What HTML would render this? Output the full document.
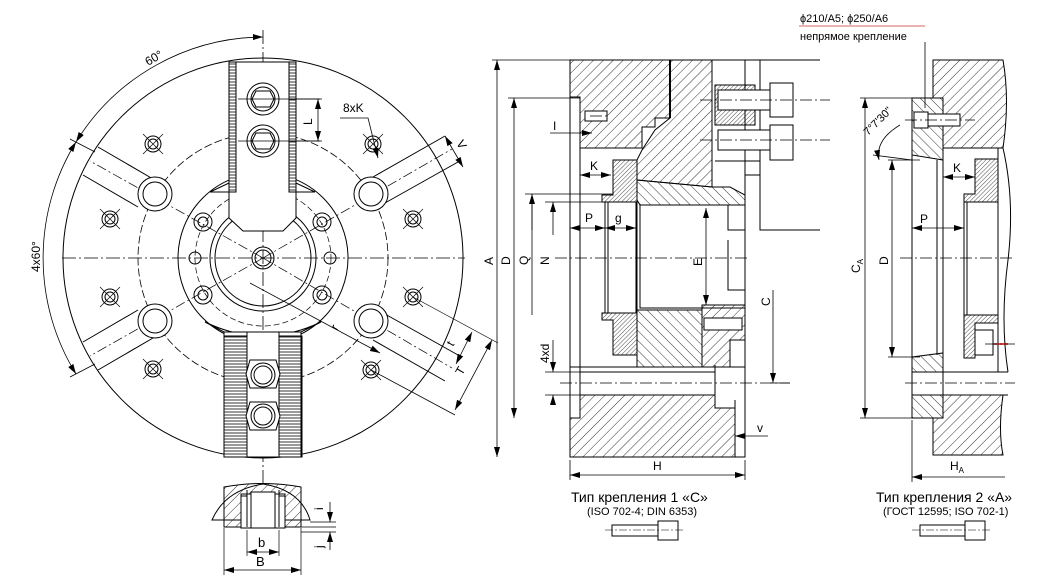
<!DOCTYPE html>
<html><head><meta charset="utf-8"><style>
html,body{margin:0;padding:0;background:#fff}
svg{display:block}
text{font-family:"Liberation Sans",Arial,sans-serif;fill:#000}
</style></head><body>
<svg width="1043" height="582" viewBox="0 0 1043 582" xmlns="http://www.w3.org/2000/svg">
<defs>
<pattern id="h" width="7" height="7" patternUnits="userSpaceOnUse" patternTransform="rotate(45)"><line x1="0" y1="0" x2="0" y2="7" stroke="#000" stroke-width="0.8"/></pattern>
<pattern id="h2" width="7" height="7" patternUnits="userSpaceOnUse" patternTransform="rotate(-45)"><line x1="0" y1="0" x2="0" y2="7" stroke="#000" stroke-width="0.8"/></pattern>
<pattern id="hd" width="3" height="3" patternUnits="userSpaceOnUse" patternTransform="rotate(45)"><line x1="0" y1="0" x2="0" y2="3" stroke="#000" stroke-width="0.7"/></pattern>
<pattern id="ser" width="3" height="3" patternUnits="userSpaceOnUse"><line x1="0" y1="1" x2="3" y2="1" stroke="#000" stroke-width="0.8"/></pattern>
<marker id="a" viewBox="0 0 10 6" refX="10" refY="3" markerWidth="10" markerHeight="6" orient="auto-start-reverse" markerUnits="userSpaceOnUse"><path d="M0,0L10,3L0,6z" fill="#000"/></marker>
</defs>
<g fill="none" stroke="#000" stroke-width="1">
<!-- ===== FRONT VIEW ===== -->
<line x1="263" y1="30" x2="263" y2="500" stroke-dasharray="14,3,2,3" stroke-width="0.8"/>
<line x1="62" y1="258" x2="465" y2="258" stroke-dasharray="14,3,2,3" stroke-width="0.8"/>
<circle cx="263" cy="258" r="200"/>
<circle cx="263" cy="258" r="125" stroke-dasharray="8,3" stroke-width="0.8"/>
<circle cx="263" cy="258" r="85"/>
<circle cx="263" cy="258" r="68" stroke-dasharray="6,3" stroke-width="0.7"/>
<circle cx="263" cy="258" r="53"/>
<circle cx="263" cy="258" r="48"/>
<circle cx="263" cy="258" r="11"/>
<circle cx="263" cy="258" r="8"/>
<g stroke-width="1">
<path d="M373,177L445,136M385,203L458,162"/>
<path d="M153,179L98,147M138,207L83,175"/>
<path d="M373,340L445,381M385,314L458,355"/>
<path d="M153,338L98,370M138,310L83,342"/>
</g>
<g stroke-dasharray="10,3,2,3" stroke-width="0.7"><line x1="263" y1="258" x2="452" y2="149"/><line x1="263" y1="258" x2="90" y2="161"/><line x1="263" y1="258" x2="452" y2="368"/><line x1="263" y1="258" x2="90" y2="356"/></g>
<g fill="#fff"><circle cx="155" cy="194" r="17"/><circle cx="371" cy="194" r="17"/><circle cx="155" cy="321" r="17"/><circle cx="371" cy="321" r="17"/></g>
<circle cx="155" cy="194" r="12"/><circle cx="371" cy="194" r="12"/><circle cx="155" cy="321" r="12"/><circle cx="371" cy="321" r="12"/>
<g>
<circle cx="153" cy="144" r="8"/><circle cx="153" cy="144" r="5"/>
<circle cx="110" cy="219" r="8"/><circle cx="110" cy="219" r="5"/>
<circle cx="110" cy="297" r="8"/><circle cx="110" cy="297" r="5"/>
<circle cx="153" cy="369" r="8"/><circle cx="153" cy="369" r="5"/>
<circle cx="373" cy="144" r="8"/><circle cx="373" cy="144" r="5"/>
<circle cx="413" cy="219" r="8"/><circle cx="413" cy="219" r="5"/>
<circle cx="413" cy="297" r="8"/><circle cx="413" cy="297" r="5"/>
<circle cx="371" cy="370" r="8"/><circle cx="371" cy="370" r="5"/>
<path stroke-width="0.7" d="M143,134l20,20M163,134l-20,20M100,209l20,20M120,209l-20,20M100,287l20,20M120,287l-20,20M143,359l20,20M163,359l-20,20M363,134l20,20M383,134l-20,20M403,209l20,20M423,209l-20,20M403,287l20,20M423,287l-20,20M361,360l20,20M381,360l-20,20"/>
</g>
<circle cx="203" cy="222" r="9"/><circle cx="203" cy="222" r="5"/>
<circle cx="322" cy="222" r="9"/><circle cx="322" cy="222" r="5"/>
<circle cx="203" cy="295" r="9"/><circle cx="203" cy="295" r="5"/>
<circle cx="322" cy="295" r="9"/><circle cx="322" cy="295" r="5"/>
<circle cx="195" cy="258" r="6"/><circle cx="330" cy="258" r="6"/>
<path d="M210,192L229,183L296,183L315,192z" fill="#fff"/>
<path d="M229,62L296,62L296,218L283,231L243,231L229,218z" fill="#fff"/>
<rect x="229" y="62" width="7" height="130" fill="url(#ser)"/>
<rect x="289" y="62" width="7" height="130" fill="url(#ser)"/>
<line x1="236" y1="62" x2="236" y2="192"/><line x1="289" y1="62" x2="289" y2="192"/>
<circle cx="263" cy="99" r="16"/><circle cx="263" cy="99" r="12"/><path d="M256,91h14l4,8l-4,8h-14l-4,-8z"/>
<circle cx="263" cy="141" r="16"/><circle cx="263" cy="141" r="12"/><path d="M256,133h14l4,8l-4,8h-14l-4,-8z"/>
<line x1="238" y1="99" x2="320" y2="99" stroke-width="0.7"/><line x1="238" y1="141" x2="320" y2="141" stroke-width="0.7"/>
<path d="M205,322Q263,350 321,322L301,332L224,332z" fill="#fff"/>
<rect x="224" y="332" width="77" height="125" fill="#fff"/>
<rect x="224" y="336" width="23" height="121" fill="url(#ser)"/>
<rect x="279" y="336" width="23" height="121" fill="url(#ser)"/>
<line x1="247" y1="332" x2="247" y2="457"/><line x1="279" y1="332" x2="279" y2="457"/>
<path d="M250,360h26l4,14l-4,14h-26l-4,-14z" fill="#fff"/><circle cx="263" cy="375" r="12"/><circle cx="263" cy="375" r="9"/>
<path d="M250,402h26l4,14l-4,14h-26l-4,-14z" fill="#fff"/><circle cx="263" cy="416" r="12"/><circle cx="263" cy="416" r="9"/>
<path d="M263,37A221,221 0 0 0 76,142" marker-end="url(#a)" marker-start="url(#a)" stroke-width="0.8"/>
<path d="M76,142A221,221 0 0 0 76,374" marker-end="url(#a)" marker-start="url(#a)" stroke-width="0.8"/>
<line x1="70" y1="139" x2="95" y2="152" stroke-width="0.8"/><line x1="70" y1="377" x2="95" y2="364" stroke-width="0.8"/>
<path d="M290,99H322M290,141H322" stroke-width="0.7"/>
<line x1="318" y1="99" x2="318" y2="141" marker-start="url(#a)" marker-end="url(#a)" stroke-width="0.8"/>
<path d="M340,118H368L378,158" stroke-width="0.8" marker-end="url(#a)"/>
<line x1="445" y1="136" x2="463" y2="167" marker-start="url(#a)" marker-end="url(#a)" stroke-width="0.8"/>
<line x1="413" y1="297" x2="498" y2="343" stroke-width="0.7"/><line x1="371" y1="370" x2="455" y2="415" stroke-width="0.8"/>
<line x1="492" y1="340" x2="455" y2="410" marker-start="url(#a)" marker-end="url(#a)" stroke-width="0.8"/>
<line x1="472" y1="332" x2="456" y2="364" marker-start="url(#a)" marker-end="url(#a)" stroke-width="0.8"/>
<line x1="250" y1="283" x2="380" y2="353" marker-end="url(#a)" stroke-width="0.8"/>
<path d="M212,520Q225,490 263,484Q301,490 310,520z" fill="#fff"/>
<path d="M224,527L224,487Q263,480 301,487L301,527z" fill="url(#h)"/>
<rect x="241" y="494" width="44" height="34" fill="#fff"/>
<path d="M247,490v37M279,490v37"/>
<path d="M241,496H247M279,496H285M241,496V528H285V496"/>
<rect x="251" y="492" width="24" height="36" fill="#fff"/>
<path d="M224,528V575M301,528V575M247,530V556M279,530V556" stroke-width="0.7"/>
<line x1="247" y1="552" x2="279" y2="552" marker-start="url(#a)" marker-end="url(#a)" stroke-width="0.8"/>
<line x1="224" y1="570" x2="301" y2="570" marker-start="url(#a)" marker-end="url(#a)" stroke-width="0.8"/>
<path d="M310,522H336M301,527H336M301,532H336" stroke-width="0.7"/>
<line x1="330" y1="502" x2="330" y2="522" marker-end="url(#a)" stroke-width="0.8"/>
<line x1="330" y1="550" x2="330" y2="532" marker-end="url(#a)" stroke-width="0.8"/>
</g>
<g font-size="12">
<text x="148" y="66" transform="rotate(-30 148 66)">60°</text>
<text x="40" y="272" transform="rotate(-90 40 272)">4x60°</text>
<text x="312" y="125" transform="rotate(-90 312 125)">L</text>
<text x="343" y="112">8xK</text>
<text x="456" y="143" transform="rotate(60 456 143)">V</text>
<text x="453" y="347" transform="rotate(-60 453 347)">t</text>
<text x="462" y="376" transform="rotate(-60 462 376)">T</text>
<text x="337" y="331" transform="rotate(-60 337 331)">r</text>
<text x="258" y="547" font-size="13">b</text>
<text x="256" y="566" font-size="13">B</text>
<text x="323" y="510" transform="rotate(-90 323 510)">i</text>
<text x="323" y="548" transform="rotate(-90 323 548)">j</text>
</g>

<!-- ===== SECTION VIEW 1 ===== -->
<g stroke="#000" stroke-width="1" fill="none">
<path d="M570,60L670,60L670,118L655,118L655,127L642,127L642,148L580,148L580,97L570,97z" fill="url(#h)"/>
<path d="M670,60L712,60L712,187L637,180L637,160L642,150L655,130L670,118z" fill="url(#h)"/>
<path d="M670,60V118" stroke-width="2"/>
<path d="M637,180L712,187L730,187L745,195L745,205L640,205L637,200z" fill="url(#h2)"/>
<path d="M613,160L637,160L637,355L613,355L613,320L602,320L602,313L613,313L613,202L602,202L602,195L613,195z" fill="url(#hd)"/>
<rect x="605" y="202" width="31" height="111" fill="#fff"/>
<line x1="608" y1="202" x2="608" y2="313"/>
<path d="M637,310L702,310L702,367L637,367z" fill="url(#h2)"/>
<path d="M702,305L745,305L745,340L730,340L730,367L702,367z" fill="url(#h)"/>
<rect x="704" y="318" width="38" height="12" fill="#fff"/>
<path d="M580,395L715,395L715,408L735,408L735,457L570,457L570,418L580,418z" fill="url(#h)"/>
<path d="M570,60V457H745V60M580,97V418M570,367H745M580,372H715M580,395H715M715,365V408M745,195V457M735,400V457"/>
<path d="M640,205V308H745M728,205V230H745M728,240V290H745"/>
<path d="M712,60H820M712,60V187M745,60V195M760,60V230H820M745,175H760"/>
<rect x="715" y="85" width="40" height="40" fill="url(#hd)"/>
<rect x="718" y="90" width="52" height="20" fill="#fff"/><rect x="770" y="83" width="23" height="34" fill="#fff"/>
<rect x="718" y="130" width="52" height="20" fill="#fff"/><rect x="770" y="125" width="23" height="35" fill="#fff"/>
<line x1="715" y1="161" x2="760" y2="161"/>
<rect x="585" y="111" width="22" height="10" fill="#fff"/>
</g>
<g fill="none" stroke="#000" stroke-width="0.8">
<path d="M700,100H830M700,140H830M555,258H750M560,383H790M590,116H610" stroke-dasharray="12,3,2,3" stroke-width="0.7"/>
<path d="M492,60H570M508,98H580M525,194H613M545,202H613M545,372H580M545,395H580M570,460V480M745,460V480M770,383H790"/>
<line x1="497" y1="60" x2="497" y2="457" marker-start="url(#a)" marker-end="url(#a)"/>
<line x1="514" y1="98" x2="514" y2="418" marker-start="url(#a)" marker-end="url(#a)"/>
<line x1="532" y1="194" x2="532" y2="315"/>
<line x1="532" y1="194" x2="532" y2="230" marker-start="url(#a)"/>
<line x1="553" y1="202" x2="553" y2="235" marker-start="url(#a)"/>
<line x1="553" y1="340" x2="553" y2="372" marker-end="url(#a)"/>
<line x1="553" y1="395" x2="553" y2="405" marker-start="url(#a)"/>
<line x1="706" y1="208" x2="706" y2="305" marker-start="url(#a)" marker-end="url(#a)"/>
<line x1="773" y1="290" x2="773" y2="383" marker-end="url(#a)"/>
<line x1="570" y1="475" x2="745" y2="475" marker-start="url(#a)" marker-end="url(#a)"/>
<line x1="550" y1="133" x2="592" y2="133" marker-end="url(#a)"/>
<line x1="580" y1="175" x2="611" y2="175" marker-start="url(#a)" marker-end="url(#a)"/>
<line x1="570" y1="228" x2="605" y2="228" marker-start="url(#a)" marker-end="url(#a)"/>
<line x1="605" y1="228" x2="636" y2="228" marker-start="url(#a)" marker-end="url(#a)"/>
<line x1="768" y1="436" x2="735" y2="436" marker-end="url(#a)"/>
</g>
<g font-size="12">
<text x="493" y="265" transform="rotate(-90 493 265)">A</text>
<text x="510" y="265" transform="rotate(-90 510 265)">D</text>
<text x="528" y="265" transform="rotate(-90 528 265)">Q</text>
<text x="549" y="265" transform="rotate(-90 549 265)">N</text>
<text x="549" y="363" transform="rotate(-90 549 363)">4xd</text>
<text x="702" y="266" transform="rotate(-90 702 266)">E</text>
<text x="770" y="306" transform="rotate(-90 770 306)">C</text>
<text x="553" y="130">I</text>
<text x="590" y="170">K</text>
<text x="585" y="222">P</text>
<text x="615" y="222">g</text>
<text x="653" y="470">H</text>
<text x="757" y="432">v</text>
<text x="571" y="502" font-size="14">Тип крепления 1 «С»</text>
<text x="587" y="515" font-size="11">(ISO 702-4; DIN 6353)</text>
</g>
<g fill="#fff" stroke="#000" stroke-width="1"><rect x="612" y="525" width="46" height="11"/><rect x="658" y="521" width="20" height="19"/></g>
<line x1="605" y1="530" x2="685" y2="530" stroke="#000" stroke-width="0.6" stroke-dasharray="8,2,2,2"/>

<!-- ===== RIGHT VIEW ===== -->
<g stroke="#000" stroke-width="1" fill="none">
<path d="M933,60H1003Q1010,100 1003,148H943V98H933z" fill="url(#h)"/>
<path d="M933,418V455H1003Q998,430 1003,395H943V418z" fill="url(#h)"/>
<path d="M912,98H943V160L912,155z" fill="url(#h2)"/>
<path d="M912,357L943,353V372H912z" fill="url(#h2)"/>
<path d="M912,395H943V418H912z" fill="url(#h2)"/>
<rect x="914" y="112" width="14" height="16" fill="#fff"/>
<rect x="928" y="114" width="32" height="12" fill="#fff"/>
<path d="M975,159H998V202H964V194H975z" fill="url(#hd)"/>
<path d="M964,315H998V323H975V358H964V323H964z" fill="url(#hd)"/>
<rect x="964" y="202" width="34" height="113" fill="#fff"/>
<line x1="967" y1="202" x2="967" y2="315"/>
<rect x="975" y="330" width="18" height="25" fill="#fff"/>
<path d="M998,148V372M1003,148Q1015,200 1008,260Q1000,320 1008,372M912,98V418H943M937,160V355M943,148V395M943,372H1008M943,395H1008M912,372H943"/>
<line x1="993" y1="344" x2="1008" y2="344" stroke="#c00" stroke-width="1.5"/>
</g>
<g fill="none" stroke="#000" stroke-width="0.8">
<path d="M900,258H1015M905,120H975M905,383H1015M985,344H1015" stroke-dasharray="12,3,2,3" stroke-width="0.7"/>
<path d="M860,98H912M860,418H912M888,160H920M888,357H920M912,420V482"/>
<line x1="865" y1="98" x2="865" y2="418" marker-start="url(#a)" marker-end="url(#a)"/>
<line x1="892" y1="160" x2="892" y2="357" marker-start="url(#a)" marker-end="url(#a)"/>
<line x1="912" y1="228" x2="964" y2="228" marker-start="url(#a)" marker-end="url(#a)"/>
<line x1="943" y1="177" x2="975" y2="177" marker-start="url(#a)" marker-end="url(#a)"/>
<line x1="1005" y1="477" x2="912" y2="477" marker-end="url(#a)"/>
<path d="M900,125Q875,140 879,160" marker-end="url(#a)"/>
<path d="M873,155L912,160"/>
<path d="M925,42V108"/>
</g>
<line x1="799" y1="26" x2="925" y2="26" stroke="#c33" stroke-width="0.8"/>
<g font-size="12">
<text x="860" y="273" transform="rotate(-90 860 273)">C<tspan font-size="8" dy="3">A</tspan></text>
<text x="888" y="265" transform="rotate(-90 888 265)">D</text>
<text x="920" y="223">P</text>
<text x="953" y="172">K</text>
<text x="950" y="470">H<tspan font-size="8" dy="3">A</tspan></text>
<text x="868" y="136" font-size="11" transform="rotate(-45 868 136)">7°7'30"</text>
<text x="800" y="22" font-size="11">ϕ210/A5; ϕ250/A6</text>
<text x="800" y="40" font-size="11">непрямое крепление</text>
<text x="876" y="502" font-size="14">Тип крепления 2 «А»</text>
<text x="883" y="515" font-size="11">(ГОСТ 12595; ISO 702-1)</text>
</g>
<g fill="#fff" stroke="#000" stroke-width="1"><rect x="920" y="525" width="45" height="11"/><rect x="965" y="521" width="20" height="19"/></g>
<line x1="912" y1="530" x2="992" y2="530" stroke="#000" stroke-width="0.6" stroke-dasharray="8,2,2,2"/>
</svg>
</body></html>
